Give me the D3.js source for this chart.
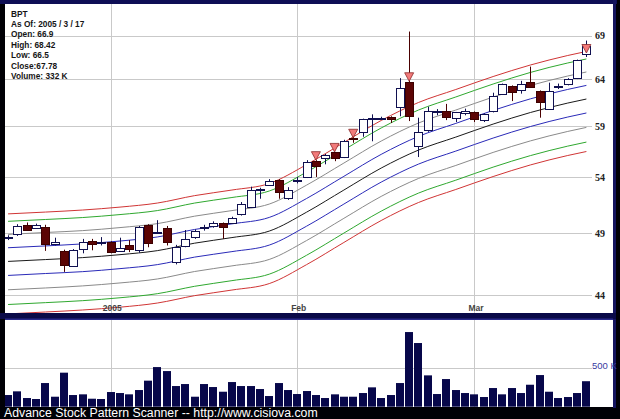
<!DOCTYPE html>
<html><head><meta charset="utf-8">
<script src="https://cdn.jsdelivr.net/npm/d3@7"></script>
<style>html,body{margin:0;padding:0;background:#000;overflow:hidden}svg{display:block}</style>
</head><body><svg id="c" width="620" height="419"></svg>
<script>
// ---------- data ----------
const dates = ["2004-12-16","2004-12-17","2004-12-20","2004-12-21","2004-12-22","2004-12-23","2004-12-27","2004-12-28","2004-12-29","2004-12-30","2004-12-31",
"2005-01-03","2005-01-04","2005-01-05","2005-01-06","2005-01-07","2005-01-10","2005-01-11","2005-01-12","2005-01-13","2005-01-14","2005-01-18","2005-01-19","2005-01-20","2005-01-21","2005-01-24","2005-01-25","2005-01-26","2005-01-27","2005-01-28","2005-01-31",
"2005-02-01","2005-02-02","2005-02-03","2005-02-04","2005-02-07","2005-02-08","2005-02-09","2005-02-10","2005-02-11","2005-02-14","2005-02-15","2005-02-16","2005-02-17","2005-02-18","2005-02-22","2005-02-23","2005-02-24","2005-02-25","2005-02-28",
"2005-03-01","2005-03-02","2005-03-03","2005-03-04","2005-03-07","2005-03-08","2005-03-09","2005-03-10","2005-03-11","2005-03-14","2005-03-15","2005-03-16","2005-03-17"];
const opens  = [48.60,48.90,49.70,49.45,49.55,48.00,47.45,46.30,47.65,48.30,48.20,48.25,47.50,48.00,47.65,49.70,49.05,49.45,46.60,47.85,48.65,49.42,49.60,49.85,49.85,50.60,51.30,52.85,53.30,53.75,52.10,53.68,54.00,55.55,55.85,56.35,55.90,57.75,58.35,59.75,59.78,59.95,61.00,63.70,57.00,58.50,60.45,60.55,59.75,60.35,60.45,59.55,60.50,62.35,63.20,62.75,63.70,62.70,60.80,63.15,63.40,64.10,66.90];
const highs  = [48.80,49.75,49.90,49.80,49.70,48.60,47.60,47.65,48.50,48.50,48.65,48.30,48.60,48.40,49.60,49.75,50.10,49.60,48.00,49.25,49.30,49.70,50.00,49.90,50.40,51.70,53.10,53.00,53.80,53.80,53.05,54.00,55.60,55.60,56.20,56.40,57.60,57.90,59.75,60.20,59.95,60.00,64.10,69.50,59.85,61.00,60.75,61.30,60.45,60.80,60.50,60.30,62.50,63.50,63.30,63.80,65.40,62.75,63.60,63.50,64.10,66.20,68.42];
const lows   = [48.40,48.75,49.20,49.35,47.50,47.95,45.80,46.25,47.30,47.55,47.95,47.30,47.45,47.40,47.35,47.80,48.95,47.95,46.40,47.80,48.50,49.20,49.45,48.50,49.80,50.50,51.20,52.00,53.20,52.00,51.90,53.40,53.90,54.00,55.20,55.50,55.80,57.30,57.90,57.45,59.70,59.30,60.00,59.50,55.90,58.40,60.10,59.60,59.40,60.10,59.40,59.40,60.40,62.30,61.60,62.40,63.10,59.85,60.70,62.90,63.30,64.00,66.50];
const closes = [48.62,49.60,49.25,49.70,48.10,48.20,46.30,47.60,48.25,48.05,48.25,47.45,47.75,47.65,49.55,48.15,49.10,48.30,47.85,48.45,49.20,49.47,49.85,49.50,50.25,51.50,52.80,52.90,53.65,52.60,52.80,53.72,55.45,55.10,56.10,55.75,57.50,57.65,59.70,59.80,59.82,59.70,63.00,60.00,58.40,60.50,60.55,59.90,60.40,60.60,59.70,60.20,62.10,63.45,62.50,63.40,63.20,61.50,62.70,63.25,64.00,66.10,67.78];
const volumes = [152,200,113,100,308,130,443,152,161,104,100,191,178,161,217,339,516,464,269,295,130,295,256,195,321,269,269,230,139,308,217,165,204,152,113,161,130,130,178,252,113,152,308,972,829,408,165,360,217,178,161,126,243,161,243,178,286,412,195,113,126,178,332];
const signalDays = [33,35,37,43,62];

// moving-average envelope lines, sampled at these day indices
const bandIdx  = [0,4,8,12,16,20,24,28,32,36,40,44,48,52,56,60,62];
const maMid    = [46.64,46.79,46.95,47.19,47.52,48.14,48.61,49.16,50.80,52.79,54.84,56.58,57.87,59.19,60.39,61.39,61.82];
const redUp    = [50.65,50.81,50.99,51.25,51.61,52.28,52.79,53.39,55.17,57.33,59.56,61.45,62.85,64.28,65.58,66.67,67.14];
const greenUp  = [50.00,50.16,50.33,50.59,50.94,51.61,52.11,52.70,54.46,56.59,58.79,60.65,62.04,63.45,64.74,65.81,66.27];
const grayUp   = [48.88,49.04,49.20,49.46,49.80,50.45,50.94,51.52,53.24,55.32,57.47,59.30,60.65,62.03,63.29,64.34,64.79];
const blueUp   = [47.76,47.91,48.08,48.32,48.66,49.30,49.78,50.34,52.02,54.06,56.16,57.94,59.26,60.61,61.84,62.86,63.30];
const blueDn   = [45.52,45.67,45.82,46.06,46.38,46.99,47.44,47.98,49.58,51.52,53.52,55.22,56.48,57.77,58.94,59.92,60.34];
const grayDn   = [44.40,44.54,44.70,44.93,45.24,45.83,46.28,46.80,48.36,50.26,52.21,53.86,55.09,56.35,57.49,58.44,58.85];
const greenDn  = [43.28,43.42,43.57,43.79,44.10,44.67,45.11,45.62,47.14,48.99,50.89,52.51,53.70,54.93,56.04,56.97,57.37];
const redDn    = [42.58,42.72,42.87,43.08,43.39,43.95,44.38,44.88,46.38,48.20,50.07,51.66,52.84,54.04,55.14,56.05,56.44];

const priceTicks = [44,49,54,59,64,69];
const monthTickDates = ["2005-01-03","2005-02-01","2005-03-01"];
const monthLabels = ["2005","Feb","Mar"];
const volumeTicks = [500];
const infoLines = ["BPT","As Of: 2005 / 3 / 17","Open: 66.9","High: 68.42","Low: 66.5","Close:67.78","Volume: 332 K"];
const footer = "Advance Stock Pattern Scanner -- http://www.cisiova.com";

// ---------- drawing ----------
const svg = d3.select("#c");
const W = 620, H = 419;
svg.append("rect").attr("width",W).attr("height",H).attr("fill","#000006");
svg.append("rect").attr("x",0).attr("y",0).attr("width",617).attr("height",4).attr("fill","#0e0e55");
svg.append("rect").attr("x",613).attr("y",0).attr("width",3).attr("height",408).attr("fill","#14145e");
svg.append("rect").attr("x",0).attr("y",313).attr("width",616).attr("height",6).attr("fill","#0a0a48");
svg.append("rect").attr("x",5).attr("y",4).attr("width",608).attr("height",309).attr("fill","#fff");
svg.append("rect").attr("x",5).attr("y",320).attr("width",608).attr("height",87).attr("fill","#fff");
svg.append("rect").attr("x",5).attr("y",318.5).attr("width",608).attr("height",1.5).attr("fill","#2a2a8a");

const defs = svg.append("defs");
defs.append("clipPath").attr("id","mainClip").append("rect").attr("x",5).attr("y",4).attr("width",608).attr("height",309);
defs.append("clipPath").attr("id","volClip").append("rect").attr("x",5).attr("y",320).attr("width",608).attr("height",87);

const x = d3.scaleLinear().domain([0, dates.length-1]).range([8.07, 586.4]);
const y = d3.scaleLog().domain([44,69]).range([295, 35.7]);
const yv = d3.scaleLinear().domain([0,500]).range([406.7, 368.3]);
const idxOf = d => dates.indexOf(d);

const main = svg.append("g").attr("clip-path","url(#mainClip)");
const vol = svg.append("g").attr("clip-path","url(#volClip)");
const gridColor = "#c9c9c9";

// grid
main.selectAll(".hg").data(priceTicks).join("line")
  .attr("x1",5).attr("x2",592).attr("y1",d=>Math.round(y(d))+0.5).attr("y2",d=>Math.round(y(d))+0.5)
  .attr("stroke",gridColor).attr("stroke-width",1);
main.selectAll(".vg").data(monthTickDates).join("line")
  .attr("x1",d=>Math.round(x(idxOf(d)))+0.5).attr("x2",d=>Math.round(x(idxOf(d)))+0.5)
  .attr("y1",4).attr("y2",313).attr("stroke",gridColor);
vol.selectAll(".vg").data(monthTickDates).join("line")
  .attr("x1",d=>Math.round(x(idxOf(d)))+0.5).attr("x2",d=>Math.round(x(idxOf(d)))+0.5)
  .attr("y1",320).attr("y2",407).attr("stroke",gridColor);
vol.selectAll(".hg").data(volumeTicks).join("line")
  .attr("x1",5).attr("x2",592).attr("y1",d=>Math.round(yv(d))+0.5).attr("y2",d=>Math.round(yv(d))+0.5)
  .attr("stroke",gridColor);

// envelope lines
const bands = [
  {v:redDn,c:"#d03535"},{v:greenDn,c:"#2fa82f"},{v:grayDn,c:"#8a8a8a"},{v:blueDn,c:"#2a2ab8"},
  {v:maMid,c:"#1a1a1a"},
  {v:blueUp,c:"#2a2ab8"},{v:grayUp,c:"#8a8a8a"},{v:greenUp,c:"#2fa82f"},{v:redUp,c:"#d03535"}
];
const line = d3.line().x((d,i)=>x(bandIdx[i])).y(d=>y(d)).curve(d3.curveMonotoneX);
main.selectAll(".band").data(bands).join("path")
  .attr("d",b=>line(b.v)).attr("fill","none").attr("stroke",b=>b.c).attr("stroke-width",1);

// candles
const candles = dates.map((d,i)=>({i,o:opens[i],h:highs[i],l:lows[i],c:closes[i]}));
const cg = main.selectAll(".cd").data(candles).join("g");
cg.append("line")
  .attr("x1",d=>Math.round(x(d.i))+0.5).attr("x2",d=>Math.round(x(d.i))+0.5)
  .attr("y1",d=>y(d.h)).attr("y2",d=>y(d.l))
  .attr("stroke",d=>d.c>=d.o?"#101050":"#4a0000").attr("stroke-width",1);
cg.append("rect")
  .attr("x",d=>Math.round(x(d.i))-3.5).attr("width",8)
  .attr("y",d=>Math.round(y(Math.max(d.o,d.c)))+0.5)
  .attr("height",d=>Math.max(1,Math.round(Math.abs(y(d.o)-y(d.c)))))
  .attr("fill",d=>d.c>=d.o?"#ffffff":"#5c0404")
  .attr("stroke",d=>d.c>=d.o?"#101050":"#3c0000").attr("stroke-width",1);

// signal triangles
main.selectAll(".sig").data(signalDays).join("path")
  .attr("d",i=>{const cx=x(i), ty=y(opens[i])-0.5; return `M${cx-4.5},${ty-8.5}L${cx+4.5},${ty-8.5}L${cx},${ty}Z`;})
  .attr("fill","#f27a7a").attr("stroke","#8a2a2a").attr("stroke-width",0.8);

// volume bars
vol.selectAll(".vb").data(volumes).join("rect")
  .attr("x",(d,i)=>Math.round(x(i))-4).attr("width",8)
  .attr("y",d=>yv(d)).attr("height",d=>yv(0)-yv(d))
  .attr("fill","#07074a");

// price axis (right)
const ya = d3.axisRight(y).tickValues(priceTicks).tickSize(0).tickPadding(3).tickFormat(d3.format("d"));
const yag = svg.append("g").attr("transform","translate(592,0)").call(ya);
yag.select(".domain").remove();
yag.selectAll("text").attr("font-family","'Liberation Serif',serif").attr("font-weight","bold")
  .attr("font-size","10px").attr("fill","#222");

// time axis
const xa = d3.axisBottom(x).tickValues(monthTickDates.map(idxOf)).tickSize(0).tickPadding(0)
  .tickFormat((d,i)=>monthLabels[i]);
const xag = svg.append("g").attr("transform","translate(1,305)").call(xa);
xag.select(".domain").remove();
xag.selectAll("text").attr("font-family","'Liberation Sans',Arial,sans-serif").attr("font-weight","bold")
  .attr("font-size","8.5px").attr("fill","#444");

// volume axis label
const va = d3.axisRight(yv).tickValues(volumeTicks).tickSize(0).tickPadding(0).tickFormat(d=>d+" K");
const vag = svg.append("g").attr("transform","translate(592,-3)").call(va);
vag.select(".domain").remove();
vag.selectAll("text").attr("font-family","'Liberation Sans',Arial,sans-serif")
  .attr("font-size","9.5px").attr("fill","#3a3aa0");

// info text
svg.append("g").selectAll("text").data(infoLines).join("text")
  .attr("x",11).attr("y",(d,i)=>16.5+i*10.4)
  .attr("font-family","'Liberation Sans',Arial,sans-serif").attr("font-weight","bold")
  .attr("font-size","8.3px").attr("fill","#151515").text(d=>d);

// footer
svg.append("text").attr("x",4).attr("y",417).attr("font-family","'Liberation Sans',Arial,sans-serif")
  .attr("font-size","12.3px").attr("fill","#ffffff").text(footer);
</script></body></html>
